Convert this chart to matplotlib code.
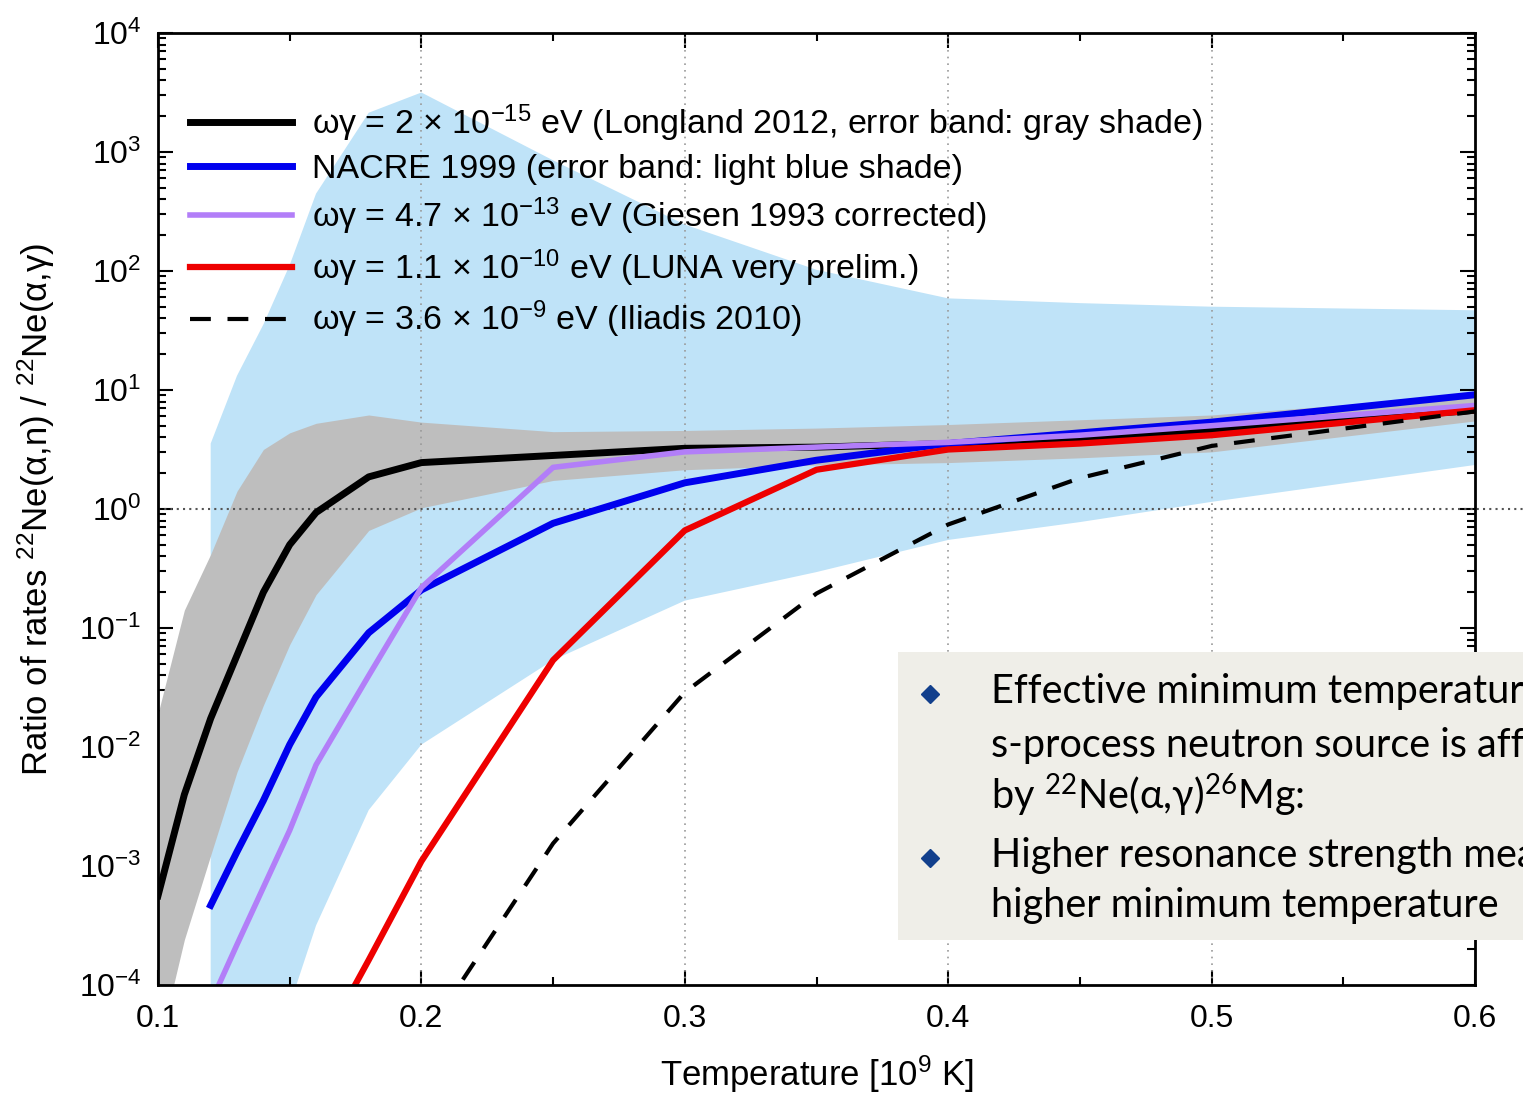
"""Ratio of 22Ne(a,n) / 22Ne(a,g) rates vs temperature"""

import numpy as np
import matplotlib.pyplot as plt
from matplotlib.lines import Line2D
from matplotlib.patches import Rectangle
from matplotlib.ticker import LogLocator, FixedLocator, NullFormatter

plt.rcParams['font.family'] = ['Liberation Sans', 'DejaVu Sans']
plt.rcParams['mathtext.default'] = 'regular'

# Temperature grid [10^9 K]
T = [0.10, 0.11, 0.12, 0.13, 0.14, 0.15, 0.16, 0.18, 0.20,
     0.25, 0.30, 0.35, 0.40, 0.45, 0.50, 0.60]

# log10 of rate ratio
longland = [-3.25, -2.40, -1.76, -1.23, -0.70, -0.30, -0.03, 0.27, 0.39,
            0.45, 0.51, 0.52, 0.55, 0.60, 0.66, 0.83]
longland_hi = [-1.72, -0.85, -0.38, 0.15, 0.50, 0.64, 0.72, 0.79, 0.73,
               0.65, 0.66, 0.68, 0.71, 0.75, 0.79, 0.96]
longland_lo = [-4.55, -3.62, -2.91, -2.21, -1.65, -1.14, -0.72, -0.18, 0.01,
               0.24, 0.33, 0.37, 0.39, 0.43, 0.48, 0.74]

T_nacre = T[2:]
nacre = [-3.33, -2.88, -2.45, -1.98, -1.58, -1.04, -0.68,
         -0.12, 0.22, 0.41, 0.55, 0.64, 0.73, 0.96]
nacre_hi = [0.55, 1.12, 1.55, 2.05, 2.65, 3.33, 3.50,
            2.93, 2.39, 2.01, 1.77, 1.73, 1.70, 1.67]
nacre_lo = [-6.2, -5.5, -4.85, -4.17, -3.50, -2.53, -1.98,
            -1.27, -0.77, -0.53, -0.26, -0.11, 0.06, 0.37]

T_giesen = T[2:]
giesen = [-4.15, -3.66, -3.18, -2.70, -2.15, -1.40, -0.66,
          0.35, 0.48, 0.52, 0.56, 0.62, 0.70, 0.87]

T_luna = T[6:]
luna = [-4.6, -3.79, -2.96, -1.27, -0.18, 0.33, 0.50, 0.55, 0.62, 0.83]

T_iliadis = T[8:]
iliadis = [-4.48, -2.81, -1.54, -0.71, -0.13, 0.26, 0.53, 0.82]

xticks = [0.1, 0.2, 0.3, 0.4, 0.5, 0.6]
xtick_labels = ['0.1', '0.2', '0.3', '0.4', '0.5', '0.6']
xminor = [0.15, 0.25, 0.35, 0.45, 0.55]
ydecades = list(range(-4, 5))

labels = [r'ωγ = 2 × 10$^{-15}$ eV (Longland 2012, error band: gray shade)',
          'NACRE 1999 (error band: light blue shade)',
          r'ωγ = 4.7 × 10$^{-13}$ eV (Giesen 1993 corrected)',
          r'ωγ = 1.1 × 10$^{-10}$ eV (LUNA very prelim.)',
          r'ωγ = 3.6 × 10$^{-9}$ eV (Iliadis 2010)']

notes = ['Effective minimum temperature for',
         's-process neutron source is affected',
         r'by $^{22}$Ne(α,γ)$^{26}$Mg:',
         'Higher resonance strength means',
         'higher minimum temperature']


def p10(a):
    return np.power(10.0, a)


fig = plt.figure(figsize=(15.23, 10.93), dpi=100)
ax = fig.add_axes([158/1523, 108/1093, 1317/1523, 952/1093])

ax.fill_between(T_nacre, p10(nacre_lo), p10(nacre_hi), color='#bfe3f8', lw=0, zorder=1)
ax.fill_between(T, p10(longland_lo), p10(longland_hi), color='#bebebe', lw=0, zorder=2)

for x in xticks[1:-1]:
    ax.axvline(x, color='#9a9a9a', ls=(0, (1, 3)), lw=1.2, zorder=3)
ax.axhline(1.0, xmax=1.04, color='#555555', ls=(0, (1, 2)), lw=1.5, zorder=3, clip_on=False)

ax.plot(T, p10(longland), color='black', lw=5, zorder=5, label=labels[0])
ax.plot(T_nacre, p10(nacre), color='#0000ee', lw=5, zorder=5, label=labels[1])
ax.plot(T_giesen, p10(giesen), color='#b27ef8', lw=4, zorder=5, label=labels[2])
ax.plot(T_luna, p10(luna), color='#ee0000', lw=4.5, zorder=5, label=labels[3])
ax.plot(T_iliadis, p10(iliadis), color='black', lw=3, dashes=(5, 4), zorder=5, label=labels[4])

ax.set_yscale('log')
ax.set_xlim(0.1, 0.6)
ax.set_ylim(1e-4, 1e4)
ax.set_yticks([10.0**k for k in ydecades])
ax.yaxis.set_minor_locator(LogLocator(base=10, subs=np.arange(2, 10)))
ax.yaxis.set_minor_formatter(NullFormatter())
ax.set_xticks(xticks)
ax.set_xticklabels(xtick_labels)
ax.xaxis.set_minor_locator(FixedLocator(xminor))
ax.tick_params(which='both', direction='in', top=True, right=True, width=1.5)
ax.tick_params(which='major', length=11, labelsize=23)
ax.tick_params(axis='x', which='major', pad=14)
ax.tick_params(axis='y', which='major', pad=12)
ax.tick_params(which='minor', length=6)
for s in ax.spines.values():
    s.set_linewidth(2)
    s.set_zorder(6)

ax.set_xlabel(r'Temperature [10$^9$ K]', fontsize=25)
ax.xaxis.set_label_coords(0.5, -0.072)
ax.set_ylabel(r'Ratio of rates $^{22}$Ne(α,n) / $^{22}$Ne(α,γ)', fontsize=25)
ax.yaxis.set_label_coords(-0.077, 0.5)

ax.legend(loc='upper left', bbox_to_anchor=(0.024, 0.927), frameon=False,
          fontsize=24.5, handlelength=3.0, handletextpad=0.6, labelspacing=0.3,
          borderaxespad=0, borderpad=0)

# note box on the right (cropped at the figure edge, as in the source slide)
fig.add_artist(Rectangle((898/1523, 153/1093), 0.5, 288/1093, transform=fig.transFigure,
                         facecolor='#efeee8', edgecolor='none', zorder=10))
note_y = [692, 745, 795, 855, 905]
for txt, yy in zip(notes, note_y):
    fig.text(991/1523, 1 - yy/1093, txt, fontsize=28.5, family=['Lato', 'DejaVu Sans'],
             va='center', ha='left', zorder=11)
for yy in [694, 858]:
    fig.add_artist(Line2D([930/1523], [1 - yy/1093], marker='D', ms=9, color='#123f8c',
                          transform=fig.transFigure, zorder=11))

fig.savefig('out.png', dpi=100)
